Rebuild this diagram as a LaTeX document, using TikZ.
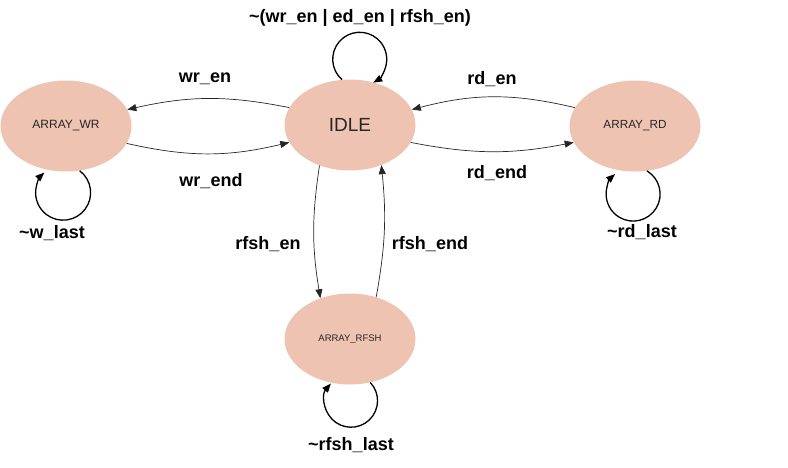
\documentclass[tikz,border=0pt]{standalone}
\usepackage{fontspec}
\setmainfont{Liberation Sans}
\usetikzlibrary{shapes.geometric,arrows.meta}
\definecolor{statefill}{RGB}{239,195,177}
\begin{document}
\begin{tikzpicture}[x=1pt,y=-1pt,
  state/.style={ellipse, fill=statefill, minimum width=131pt, minimum height=91pt, inner sep=0pt, text=black!85},
  lbl/.style={font=\fontsize{18}{20}\selectfont\bfseries, inner sep=0pt},
  trans/.style={-{Triangle[length=9pt,width=7pt]}, line width=0.7pt, draw=black!85},
  selfloop/.style={-{Triangle[length=9pt,width=7pt]}, line width=1.3pt}]
\useasboundingbox (0,0) rectangle (788,467);
\node[state, font=\fontsize{12}{14}\selectfont] (WR) at (66,126) {ARRAY\_WR};
\node[state, font=\fontsize{19}{21}\selectfont] (IDLE) at (350,125) {IDLE};
\node[state, font=\fontsize{11.75}{14}\selectfont] (RD) at (635,126) {ARRAY\_RD};
\node[state, font=\fontsize{9.5}{12}\selectfont] (RFSH) at (350,339) {ARRAY\_RFSH};

\draw[trans] (IDLE.164) to[bend right=12] (WR.15);
\draw[trans] (WR.-16) to[bend right=13] (IDLE.196);
\draw[trans] (RD.163) to[bend right=14] (IDLE.14);
\draw[trans] (IDLE.-16) to[bend right=11] (RD.195);
\draw[trans] (IDLE.233) to[bend right=9] (RFSH.126);
\draw[trans] (RFSH.58) to[bend right=8] (IDLE.-52);

\draw[selfloop] (IDLE.100) arc[start angle=229, end angle=-60, radius=27pt];
\draw[selfloop] (WR.-73) arc[start angle=53, end angle=-227, radius=27.5pt];
\draw[selfloop] (RD.-75) arc[start angle=59, end angle=-228, radius=27pt];
\draw[selfloop] (RFSH.-65) arc[start angle=43.5, end angle=-220.5, radius=26.5pt];

\node[lbl] (lidle) at (360,18) {\textasciitilde(wr\_en | ed\_en | rfsh\_en)};
\node[lbl] (lwren) at (205,79) {wr\_en};
\node[lbl] (lwrend) at (211,181) {wr\_end};
\node[lbl] (lrden) at (492,79) {rd\_en};
\node[lbl] (lrdend) at (497,173) {rd\_end};
\node[lbl] (lwlast) at (52,233) {\textasciitilde w\_last};
\node[lbl] (lrdlast) at (642,232) {\textasciitilde rd\_last};
\node[lbl] (lrfen) at (268,244) {rfsh\_en};
\node[lbl] (lrfend) at (430,244) {rfsh\_end};
\node[lbl] (lrflast) at (351,445) {\textasciitilde rfsh\_last};
\end{tikzpicture}
\end{document}
